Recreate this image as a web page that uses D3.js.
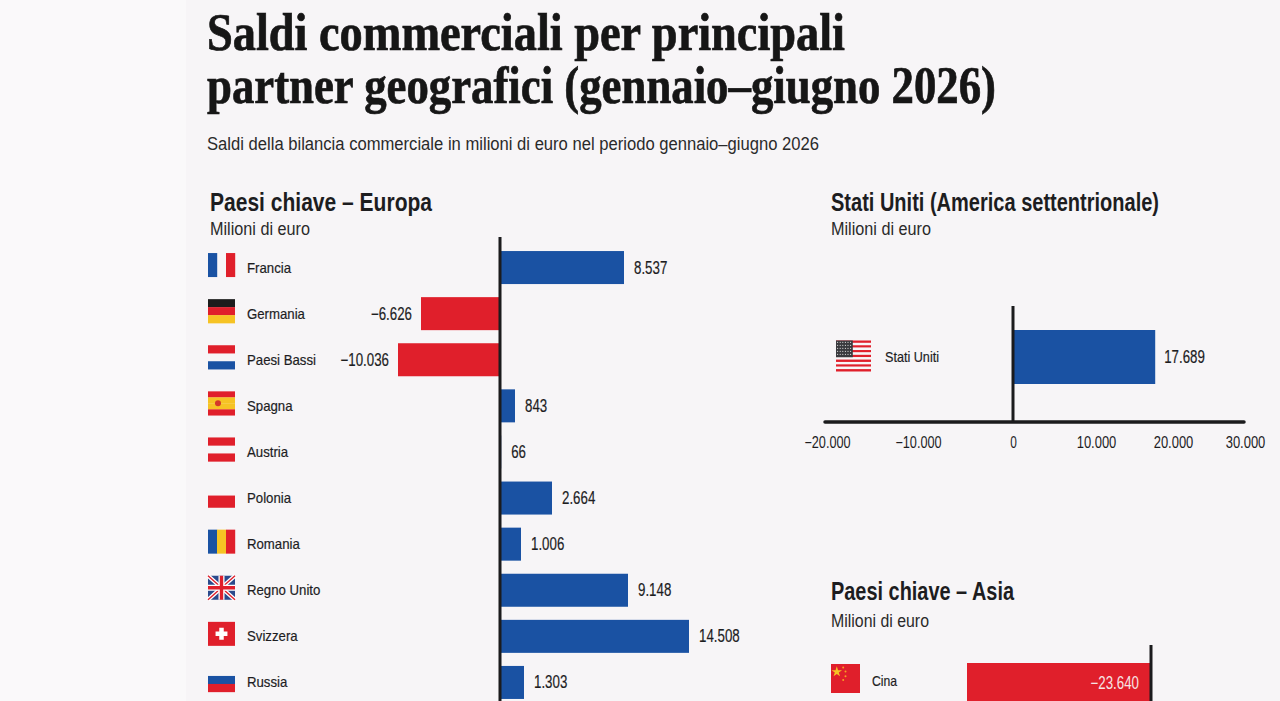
<!DOCTYPE html>
<html lang="it">
<head>
<meta charset="utf-8">
<title>Saldi commerciali</title>
<script src="https://cdn.jsdelivr.net/npm/d3@7"></script>
<style>
  html, body { margin: 0; padding: 0; background: #faf9fa; overflow: hidden; }
  svg { display: block; }
  text { font-family: "Liberation Sans", Arial, sans-serif; fill: #1d1d1f; }
  .title { font-family: "Liberation Serif", serif; font-weight: 700; font-size: 52px; fill: #161616; stroke: #161616; stroke-width: 0.7px; }
  .head { font-weight: 700; font-size: 25px; }
  .unit { font-size: 17.5px; fill: #2a2a2a; }
  .lab { font-size: 15px; stroke: #1d1d1f; stroke-width: 0.2px; }
  .val { font-size: 17.5px; stroke: #1d1d1f; stroke-width: 0.2px; }
</style>
</head>
<body>
<svg id="chart" width="1280" height="701"></svg>
<script>
const BLUE = '#1a52a3';
const RED = '#e01f2b';
const INK = '#1b1b1d';
const PAPER = '#f7f5f7';

const europeCountries = ['Francia','Germania','Paesi Bassi','Spagna','Austria','Polonia','Romania','Regno Unito','Svizzera','Russia'];
const europeValues = [8537,-6626,-10036,843,66,2664,1006,9148,14508,1303];
const usCountries = ['Stati Uniti'];
const usValues = [17689];
const usTicks = [-20000,-10000,0,10000,20000,30000];
const asiaCountries = ['Cina'];
const asiaValues = [-23640];

const svg = d3.select('#chart');
const fmt = v => (v < 0 ? '−' : '') + d3.format(',')(Math.abs(v)).replace(/,/g, '.');

// page panel
svg.append('rect').attr('x', 186).attr('y', 0).attr('width', 1094).attr('height', 701).attr('fill', PAPER);

// text squeezed to the width it has in the picture
function put(str, x, y, cls, width, anchor){
  const t = svg.append('text').attr('x', x).attr('y', y).attr('class', cls).text(str);
  if (anchor) t.attr('text-anchor', anchor);
  if (width) t.attr('textLength', width).attr('lengthAdjust', 'spacingAndGlyphs');
  return t;
}
// same, with a factor on the natural width
function squeezed(str, x, y, cls, factor, anchor){
  const t = put(str, x, y, cls, null, anchor);
  t.attr('textLength', t.node().getComputedTextLength() * factor).attr('lengthAdjust', 'spacingAndGlyphs');
  return t;
}
const LAB_SQ = 0.88, VAL_SQ = 0.76;

put('Saldi commerciali per principali', 207, 50, 'title', 638);
put('partner geografici (gennaio–giugno 2026)', 207, 103, 'title', 789);
put('Saldi della bilancia commerciale in milioni di euro nel periodo gennaio–giugno 2026', 207, 150, 'unit', 612);

put('Paesi chiave – Europa', 210, 211, 'head', 222);
put('Milioni di euro', 210, 235, 'unit', 100);
put('Stati Uniti (America settentrionale)', 831, 211, 'head', 328);
put('Milioni di euro', 831, 235, 'unit', 100);
put('Paesi chiave – Asia', 831, 600, 'head', 183);
put('Milioni di euro', 831, 627, 'unit', 98);

// flags: stripes as fractions of the flag box
function stripes(g, w, h, cols, vertical){
  cols.forEach((c, i) => {
    g.append('rect')
      .attr('x', vertical ? i * w / cols.length : 0)
      .attr('y', vertical ? 0 : i * h / cols.length)
      .attr('width', vertical ? w / cols.length + 0.2 : w)
      .attr('height', vertical ? h : h / cols.length + 0.2)
      .attr('fill', c);
  });
}
const CLEAR = 'none';
const FLAGS = {
  'Francia': (g,w,h) => stripes(g,w,h,[BLUE,CLEAR,RED],true),
  'Germania': (g,w,h) => stripes(g,w,h,['#1c1c1c',RED,'#f6c324'],false),
  'Paesi Bassi': (g,w,h) => stripes(g,w,h,[RED,CLEAR,BLUE],false),
  'Spagna': (g,w,h) => {
    stripes(g,w,h,[RED,'#f6c324','#f6c324',RED],false);
    g.append('circle').attr('cx', w*0.37).attr('cy', h/2).attr('r', 3).attr('fill', '#d4382a');
  },
  'Austria': (g,w,h) => stripes(g,w,h,[RED,CLEAR,RED],false),
  'Polonia': (g,w,h) => stripes(g,w,h,[CLEAR,RED],false),
  'Romania': (g,w,h) => stripes(g,w,h,[BLUE,'#f6c324',RED],true),
  'Regno Unito': (g,w,h) => {
    g.append('rect').attr('width', w).attr('height', h).attr('fill', '#2b4a8c');
    const d = `M0,0L${w},${h}M${w},0L0,${h}`;
    g.append('path').attr('d', d).attr('stroke', '#fff').attr('stroke-width', 4);
    g.append('path').attr('d', d).attr('stroke', RED).attr('stroke-width', 1.4);
    const c = `M${w/2},0V${h}M0,${h/2}H${w}`;
    g.append('path').attr('d', c).attr('stroke', '#fff').attr('stroke-width', 6);
    g.append('path').attr('d', c).attr('stroke', RED).attr('stroke-width', 3.4);
  },
  'Svizzera': (g,w,h) => {
    g.append('rect').attr('width', w).attr('height', h).attr('fill', RED);
    g.append('path').attr('d', `M${w/2},${h*0.25}V${h*0.75}M${w*0.28},${h/2}H${w*0.72}`)
      .attr('stroke', '#fff').attr('stroke-width', 4.5);
  },
  'Russia': (g,w,h) => stripes(g,w,h,[CLEAR,BLUE,RED],false),
  'Stati Uniti': (g,w,h) => {
    const n = 13;
    d3.range(n).forEach(i => g.append('rect').attr('y', i*h/n).attr('width', w).attr('height', h/n)
      .attr('fill', i % 2 ? PAPER : RED));
    g.append('rect').attr('width', w*0.48).attr('height', h*0.54).attr('fill', '#3a3a3e');
    d3.range(5).forEach(r => d3.range(6).forEach(c => g.append('circle')
      .attr('cx', 1.6 + c*2.6).attr('cy', 1.8 + r*3).attr('r', 0.6).attr('fill', '#ddd')));
  },
  'Cina': (g,w,h) => {
    g.append('rect').attr('width', w).attr('height', h).attr('fill', RED);
    g.append('path').attr('d', d3.symbol(d3.symbolStar, 34)()).attr('transform', `translate(${w*0.2},${h*0.27})`).attr('fill', '#f6c324');
    [[0.42,0.12],[0.5,0.26],[0.5,0.42],[0.42,0.55]].forEach(p => g.append('circle')
      .attr('cx', w*p[0]).attr('cy', h*p[1]).attr('r', 1).attr('fill', '#f6a324'));
  }
};
function flag(name, x, cy, w, h){
  const g = svg.append('g').attr('transform', `translate(${x},${cy - h/2})`);
  FLAGS[name](g, w, h);
}

function bars(g, rows, xs, ys){
  g.selectAll('rect').data(rows).join('rect')
    .attr('x', d => Math.min(xs(0), xs(d.v)))
    .attr('y', d => ys(d.c))
    .attr('width', d => Math.abs(xs(d.v) - xs(0)))
    .attr('height', ys.bandwidth())
    .attr('fill', d => d.v < 0 ? RED : BLUE);
}
const zip = (cs, vs) => cs.map((c, i) => ({ c, v: vs[i] }));

// The source bars are not drawn to one linear scale, so every x scale here is
// piecewise, with knots fitted to where the picture puts those values.

// --- Europa ---
const xEu = d3.scaleLinear()
  .domain([-10036, -6626, 0, 843, 1006, 1303, 2664, 8537, 9148, 14508])
  .range([398, 421, 500, 515, 521, 524, 552, 624, 628, 689]);
const yEu = d3.scaleBand().domain(europeCountries).range([244.5, 705.5]).paddingInner(0.284).paddingOuter(0.142);
const euRows = zip(europeCountries, europeValues);
bars(svg.append('g'), euRows, xEu, yEu);
euRows.forEach(d => {
  const cy = yEu(d.c) + yEu.bandwidth() / 2;
  flag(d.c, 208, cy - 2.5, 27, 24);
  squeezed(d.c, 247, cy + 5, 'lab', LAB_SQ);
  const neg = d.v < 0;
  squeezed(fmt(d.v), xEu(d.v) + (neg ? -9 : 10), cy + 6, 'val', VAL_SQ, neg ? 'end' : 'start');
});
svg.append('line').attr('x1', xEu(0)).attr('x2', xEu(0)).attr('y1', 237).attr('y2', 701)
  .attr('stroke', INK).attr('stroke-width', 3);

// --- Stati Uniti ---
const xUs = d3.scaleLinear().domain(usTicks).range([827, 918, 1013, 1096, 1173, 1245]);
const yUs = d3.scaleBand().domain(usCountries).range([330, 384]);
const usRows = zip(usCountries, usValues);
bars(svg.append('g'), usRows, xUs, yUs);
usRows.forEach(d => {
  const cy = yUs(d.c) + yUs.bandwidth() / 2;
  flag(d.c, 836, cy - 1, 35, 31);
  put(d.c, 885, cy + 5, 'lab', 54);
  squeezed(fmt(d.v), xUs(d.v) + 9, cy + 6, 'val', VAL_SQ);
});
svg.append('line').attr('x1', 1013).attr('x2', 1013).attr('y1', 306).attr('y2', 422)
  .attr('stroke', INK).attr('stroke-width', 3);
const axisUs = svg.append('g').attr('transform', 'translate(0,422)')
  .call(d3.axisBottom(xUs).tickValues(usTicks).tickFormat(fmt).tickSize(0).tickPadding(15));
axisUs.select('.domain').remove();
axisUs.selectAll('text').style('font-family', '"Liberation Sans", sans-serif').style('font-size', '16px')
  .attr('textLength', d => fmt(d).length * 6.6).attr('lengthAdjust', 'spacingAndGlyphs');
svg.append('line').attr('x1', 825).attr('x2', 1244).attr('y1', 422).attr('y2', 422)
  .attr('stroke', INK).attr('stroke-width', 3.5).attr('stroke-linecap', 'round');

// --- Asia ---
const xAs = d3.scaleLinear().domain([-23640, 0]).range([967, 1151]);
const yAs = d3.scaleBand().domain(asiaCountries).range([663, 701]);
const asRows = zip(asiaCountries, asiaValues);
bars(svg.append('g'), asRows, xAs, yAs);
asRows.forEach(d => {
  flag(d.c, 831, 678.5, 29, 29);
  put(d.c, 872, 686, 'lab', 25);
  squeezed(fmt(d.v), 1139, 689, 'val', VAL_SQ, 'end').style('fill', '#f7e4e4').style('stroke', 'none');
});
svg.append('line').attr('x1', 1151).attr('x2', 1151).attr('y1', 645).attr('y2', 701)
  .attr('stroke', INK).attr('stroke-width', 3);
</script>
</body>
</html>
